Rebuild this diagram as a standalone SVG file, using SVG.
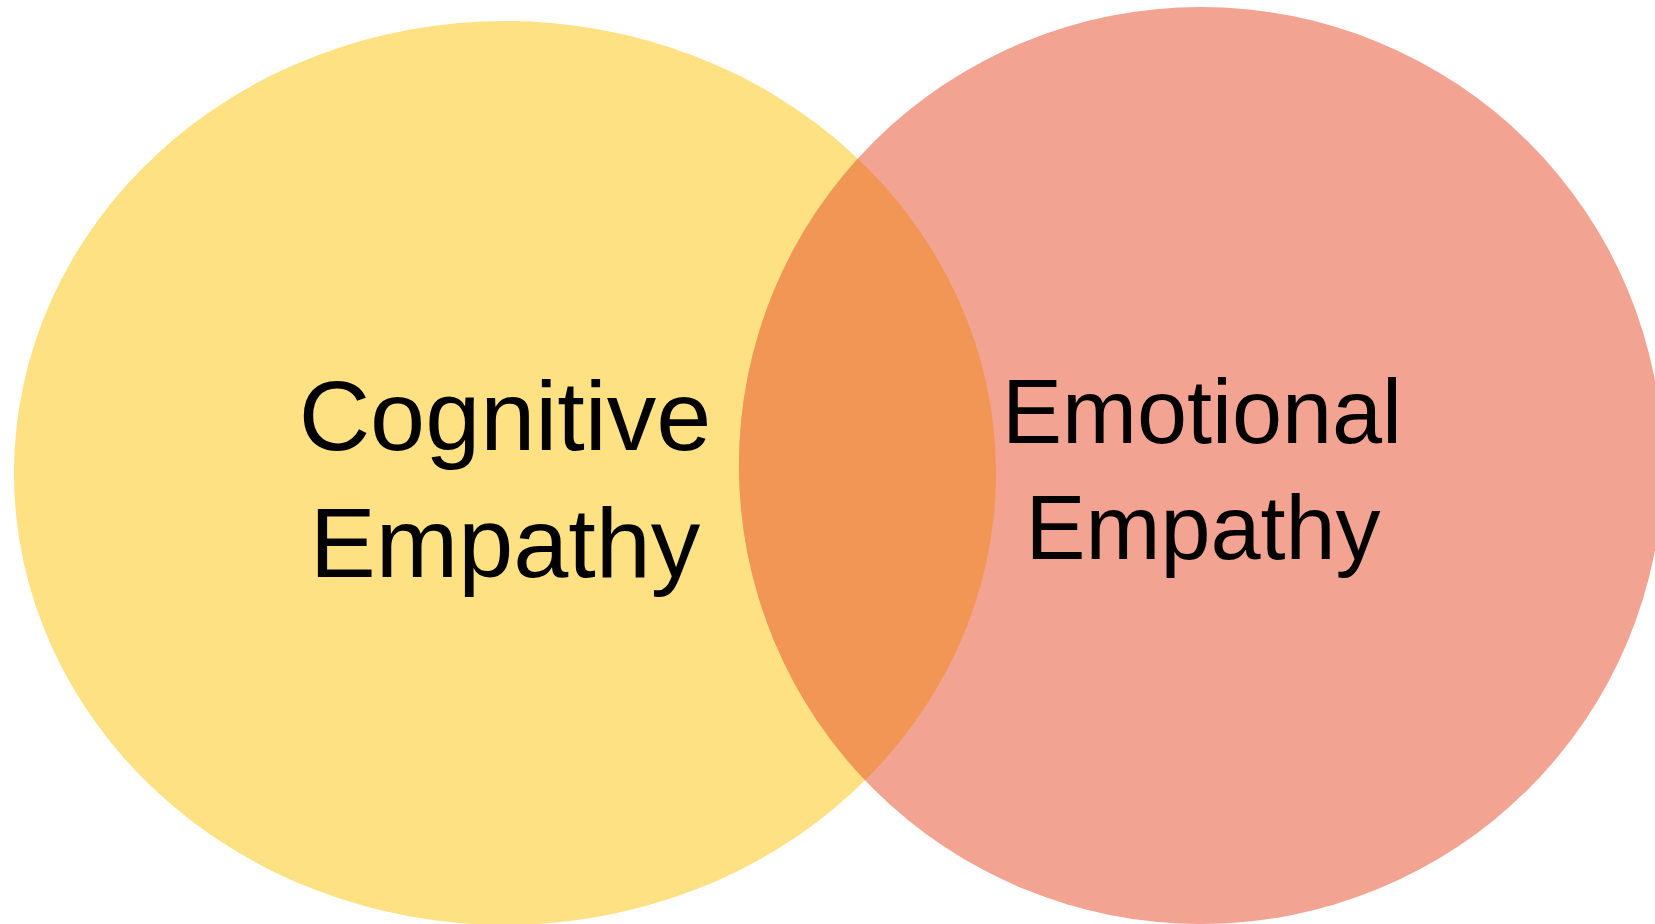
<svg xmlns="http://www.w3.org/2000/svg" width="1655" height="924" viewBox="0 0 1655 924">
  <style>
    .label { font-family: "Liberation Sans", Arial, sans-serif; fill: #000000; text-anchor: middle; }
  </style>
  <defs>
    <clipPath id="clip-cognitive">
      <ellipse cx="505" cy="473" rx="491" ry="452"/>
    </clipPath>
  </defs>
  <rect width="1655" height="924" fill="#ffffff"/>

  <g id="cognitive">
    <ellipse cx="505" cy="473" rx="491" ry="452" fill="#FDE182"/>
  </g>
  <g id="emotional">
    <ellipse cx="1201" cy="465.5" rx="462" ry="458.5" fill="#F2A391"/>
  </g>
  <g id="overlap">
    <ellipse cx="1201" cy="465.5" rx="462" ry="458.5" fill="#F19654" clip-path="url(#clip-cognitive)"/>
  </g>

  <g id="labels">
    <text class="label" x="505" y="450" font-size="99">Cognitive</text>
    <text class="label" x="505" y="577" font-size="99">Empathy</text>
    <text class="label" x="1202" y="443" font-size="90">Emotional</text>
    <text class="label" x="1203" y="559" font-size="90">Empathy</text>
  </g>
</svg>
